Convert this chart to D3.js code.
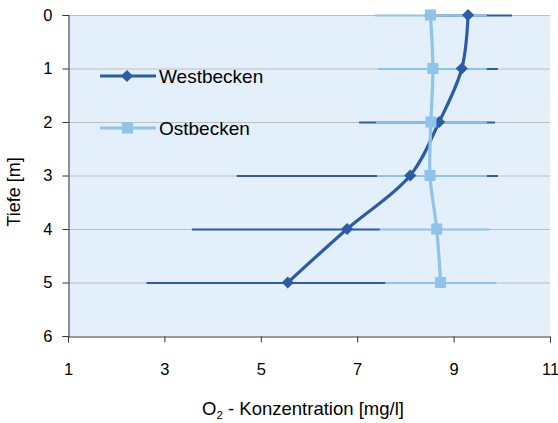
<!DOCTYPE html>
<html>
<head>
<meta charset="utf-8">
<script src="https://cdn.jsdelivr.net/npm/d3@7"></script>
<style>
  body { margin: 0; background: #fff; }
  text { font-family: "Liberation Sans", Arial, sans-serif; fill: #000; }
</style>
</head>
<body>
<div id="chart"></div>
<script>
const depths = [0, 1, 2, 3, 4, 5];
const westMean = [9.30, 9.17, 8.70, 8.10, 6.79, 5.56];
const westLow = [8.39, 8.43, 7.04, 4.50, 3.57, 2.63];
const westHigh = [10.21, 9.92, 9.86, 9.92, 7.47, 7.60];
const ostMean = [8.52, 8.57, 8.53, 8.51, 8.65, 8.73];
const ostLow = [7.37, 7.43, 7.39, 7.41, 7.47, 7.58];
const ostHigh = [9.69, 9.69, 9.69, 9.69, 9.75, 9.89];
const xTicks = [1, 3, 5, 7, 9, 11];
const yTicks = [0, 1, 2, 3, 4, 5, 6];
const seriesNames = ["Westbecken", "Ostbecken"];

const width = 558;
const height = 423;
const marginTop = 15;
const marginRight = 8;
const marginBottom = 87;
const marginLeft = 68;

const darkBlue = "#2D5BA6";
const lightBlue = "#8FC3EA";

const x = d3.scaleLinear()
  .domain([1, 11])
  .range([marginLeft, width - marginRight]);

const y = d3.scaleLinear()
  .domain([0, 6])
  .range([marginTop, height - marginBottom]);

const svg = d3.create("svg").attr("width", width).attr("height", height);

// plot background
svg.append("rect")
  .attr("x", x(1)).attr("y", y(0))
  .attr("width", x(11) - x(1)).attr("height", y(6) - y(0))
  .attr("fill", "#E3EFFA");

// horizontal gridlines
svg.append("g")
  .selectAll("line")
  .data(yTicks.slice(0, -1))
  .join("line")
  .attr("x1", x(1)).attr("x2", x(11))
  .attr("y1", (d) => y(d) + 0.5).attr("y2", (d) => y(d) + 0.5)
  .attr("stroke", "#BEBEBE")
  .attr("stroke-width", 1);

// x axis
const xAxis = svg.append("g")
  .attr("transform", `translate(0,${y(6) + 0.5})`)
  .call(d3.axisBottom(x).tickValues(xTicks).tickFormat(d3.format("d")).tickSize(6).tickPadding(21));
xAxis.select(".domain").attr("stroke", "#333");
xAxis.selectAll(".tick line").attr("stroke", "#333");
xAxis.selectAll("text").attr("font-size", 16.5).attr("font-family", "Liberation Sans, Arial, sans-serif").attr("fill", "#000");

// y axis
const yAxis = svg.append("g")
  .attr("transform", `translate(${x(1) + 0.5},0)`)
  .call(d3.axisLeft(y).tickValues(yTicks).tickFormat(d3.format("d")).tickSize(6).tickPadding(10));
yAxis.select(".domain").attr("stroke", "#333");
yAxis.selectAll(".tick line").attr("stroke", "#333");
yAxis.selectAll("text").attr("font-size", 16.5).attr("font-family", "Liberation Sans, Arial, sans-serif").attr("fill", "#000");

// axis titles
const xTitle = svg.append("text")
  .attr("x", 303).attr("y", 415)
  .attr("text-anchor", "middle")
  .attr("font-size", 18.5);
xTitle.append("tspan").text("O");
xTitle.append("tspan").text("2").attr("font-size", 11.5).attr("dy", 4);
xTitle.append("tspan").text(" - Konzentration [mg/l]").attr("dy", -4);

svg.append("text")
  .attr("transform", "translate(20,192) rotate(-90)")
  .attr("text-anchor", "middle")
  .attr("font-size", 18)
  .text("Tiefe [m]");

const west = depths.map((d, i) => ({ d, v: westMean[i], lo: westLow[i], hi: westHigh[i] }));
const ost = depths.map((d, i) => ({ d, v: ostMean[i], lo: ostLow[i], hi: ostHigh[i] }));

// error bars
function errorBars(data, color) {
  svg.append("g")
    .selectAll("line")
    .data(data)
    .join("line")
    .attr("x1", (p) => x(p.lo)).attr("x2", (p) => x(p.hi))
    .attr("y1", (p) => y(p.d) + 0.5).attr("y2", (p) => y(p.d) + 0.5)
    .attr("stroke", color)
    .attr("stroke-width", 2.2);
}
errorBars(west, darkBlue);
errorBars(ost, lightBlue);

const line = d3.line()
  .x((p) => x(p.v))
  .y((p) => y(p.d))
  .curve(d3.curveCatmullRom.alpha(0.5));

svg.append("path")
  .attr("fill", "none")
  .attr("stroke", darkBlue)
  .attr("stroke-width", 3.2)
  .attr("d", line(west));

svg.append("path")
  .attr("fill", "none")
  .attr("stroke", lightBlue)
  .attr("stroke-width", 3.2)
  .attr("d", line(ost));

const diamond = d3.symbol().type(d3.symbolSquare).size(74);
svg.append("g")
  .selectAll("path")
  .data(west)
  .join("path")
  .attr("transform", (p) => `translate(${x(p.v)},${y(p.d)}) rotate(45)`)
  .attr("d", diamond)
  .attr("fill", darkBlue);

svg.append("g")
  .selectAll("rect")
  .data(ost)
  .join("rect")
  .attr("x", (p) => x(p.v) - 5.5).attr("y", (p) => y(p.d) - 5.5)
  .attr("width", 11).attr("height", 11)
  .attr("fill", lightBlue);

// legend
const legend = svg.append("g");
const legendColors = [darkBlue, lightBlue];
const legendY = [76, 128];
seriesNames.forEach((name, i) => {
  const g = legend.append("g").attr("transform", `translate(0,${legendY[i]})`);
  g.append("line")
    .attr("x1", 100).attr("x2", 156)
    .attr("stroke", legendColors[i]).attr("stroke-width", 3.2);
  if (i === 0) {
    g.append("path").attr("transform", "translate(127,0) rotate(45)")
      .attr("d", diamond).attr("fill", darkBlue);
  } else {
    g.append("rect").attr("x", 122).attr("y", -5.5).attr("width", 11).attr("height", 11)
      .attr("fill", lightBlue);
  }
  g.append("text").attr("x", 159).attr("y", 6.5)
    .attr("font-size", 19).text(name);
});

document.getElementById("chart").append(svg.node());
</script>
</body>
</html>
